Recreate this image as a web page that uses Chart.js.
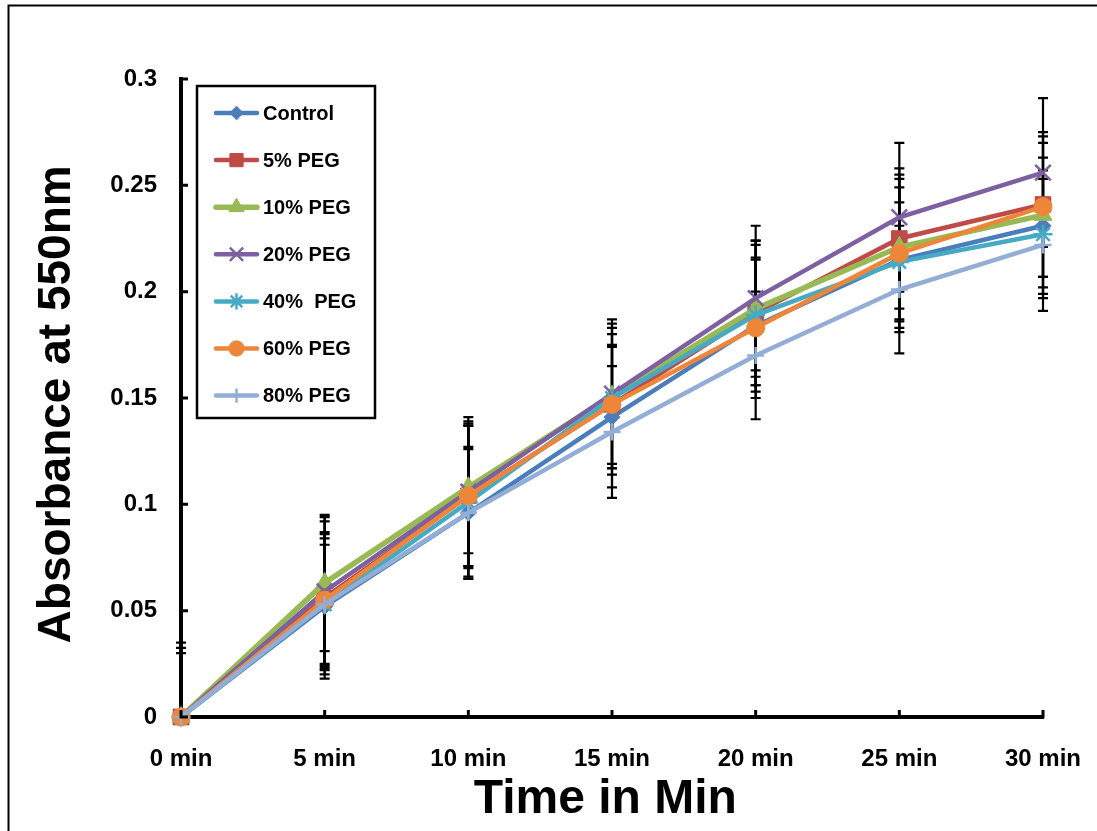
<!DOCTYPE html>
<html>
<head>
<meta charset="utf-8">
<script src="https://cdn.jsdelivr.net/npm/chart.js@4.4.1/dist/chart.umd.min.js"></script>
<style>
  html, body { margin: 0; padding: 0; background: #ffffff; }
  #wrap { width: 1097px; height: 831px; position: relative; }
</style>
</head>
<body>
<div id="wrap"><canvas id="c" width="1097" height="831"></canvas></div>
<script>
// ---- data ----
const categories = ['0 min', '5 min', '10 min', '15 min', '20 min', '25 min', '30 min'];
const seriesNames = ['Control', '5% PEG', '10% PEG', '20% PEG', '40%  PEG', '60% PEG', '80% PEG'];

const control = [0, 0.052, 0.096, 0.141, 0.184, 0.215, 0.231];
const peg5    = [0, 0.056, 0.104, 0.147, 0.190, 0.225, 0.241];
const peg10   = [0, 0.063, 0.108, 0.151, 0.192, 0.221, 0.236];
const peg20   = [0, 0.059, 0.106, 0.152, 0.197, 0.235, 0.256];
const peg40   = [0, 0.053, 0.101, 0.150, 0.189, 0.214, 0.227];
const peg60   = [0, 0.055, 0.104, 0.147, 0.183, 0.218, 0.240];
const peg80   = [0, 0.053, 0.096, 0.134, 0.170, 0.201, 0.222];

const errControl = [0,      0.034, 0.031, 0.033, 0.031, 0.034, 0.032];
const err5       = [0.0325, 0.036, 0.034, 0.033, 0.034, 0.033, 0.034];
const err10      = [0.035,  0.032, 0.031, 0.034, 0.032, 0.034, 0.034];
const err20      = [0.030,  0.035, 0.035, 0.035, 0.034, 0.035, 0.035];
const err40      = [0,      0.031, 0.036, 0.033, 0.033, 0.028, 0.030];
const err60      = [0,      0.032, 0.033, 0.028, 0.033, 0.035, 0.033];
const err80      = [0,      0.028, 0.030, 0.031, 0.030, 0.030, 0.031];

const yTickLabels = ['0', '0.05', '0.1', '0.15', '0.2', '0.25', '0.3'];

// ---- styles ----
const colors = ['#4A7EBB', '#BE4B48', '#98B954', '#7D60A0', '#46AAC5', '#EE8639', '#93AED6'];
const styles = ['rectRot', 'rect', 'triangle', 'crossRot', 'star', 'circle', 'cross'];
const radii  = [8, 11, 10.5, 11, 9.5, 9, 8.5];
const lineW  = [4.5, 4.5, 5.5, 4.5, 4.5, 4.5, 4.5];
const values = [control, peg5, peg10, peg20, peg40, peg60, peg80];
const errors = [errControl, err5, err10, err20, err40, err60, err80];

const FONT = '"Liberation Sans", Arial, sans-serif';

const datasets = values.map((v, i) => {
  const open = (styles[i] === 'crossRot' || styles[i] === 'star' || styles[i] === 'cross');
  return {
    label: seriesNames[i],
    data: v,
    errors: errors[i],
    borderColor: colors[i],
    backgroundColor: colors[i],
    borderWidth: lineW[i],
    pointStyle: styles[i],
    pointRadius: radii[i],
    pointBorderWidth: open ? 2.5 : 1,
    pointBackgroundColor: colors[i],
    pointBorderColor: colors[i],
    tension: 0,
    order: values.length - 1 - i,
    clip: false
  };
});

const framePlugin = {
  id: 'frame',
  beforeDraw(chart) {
    const ctx = chart.ctx;
    ctx.save();
    ctx.fillStyle = '#ffffff';
    ctx.fillRect(0, 0, chart.width, chart.height);
    ctx.strokeStyle = '#000';
    ctx.lineWidth = 2;
    ctx.beginPath();
    ctx.moveTo(8.5, chart.height);
    ctx.lineTo(8.5, 5.5);
    ctx.lineTo(chart.width, 5.5);
    ctx.stroke();
    ctx.restore();
  }
};

const errorBarPlugin = {
  id: 'errorBars',
  beforeDatasetsDraw(chart) {
    const ctx = chart.ctx;
    const area = chart.chartArea;
    const xs = chart.scales.x, ys = chart.scales.y;
    ctx.save();
    ctx.beginPath();
    ctx.rect(area.left - 10, area.top - 2, area.right - area.left + 20, area.bottom - area.top + 2);
    ctx.clip();
    ctx.strokeStyle = '#000';
    ctx.lineWidth = 2.2;
    chart.data.datasets.forEach(ds => {
      ds.data.forEach((v, j) => {
        const e = ds.errors[j];
        if (!e) return;
        const x = xs.getPixelForValue(j);
        const yTop = ys.getPixelForValue(v + e);
        const yBot = ys.getPixelForValue(v - e);
        ctx.beginPath();
        ctx.moveTo(x, yTop); ctx.lineTo(x, yBot);
        ctx.moveTo(x - 5, yTop); ctx.lineTo(x + 5, yTop);
        ctx.moveTo(x - 5, yBot); ctx.lineTo(x + 5, yBot);
        ctx.stroke();
      });
    });
    ctx.restore();
  },
  afterDatasetsDraw(chart) {
    // inward tick marks on both axes
    const ctx = chart.ctx;
    const area = chart.chartArea;
    const xs = chart.scales.x, ys = chart.scales.y;
    ctx.save();
    ctx.strokeStyle = '#000';
    ctx.lineWidth = 3;
    ctx.beginPath();
    ys.ticks.forEach((t, i) => {
      const y = ys.getPixelForTick(i);
      ctx.moveTo(area.left - 1, y); ctx.lineTo(area.left + 7, y);
    });
    xs.ticks.forEach((t, i) => {
      const x = xs.getPixelForTick(i);
      ctx.moveTo(x, area.bottom + 1); ctx.lineTo(x, area.bottom - 7);
    });
    ctx.stroke();
    ctx.restore();
  }
};

const legendPlugin = {
  id: 'boxLegend',
  afterDraw(chart) {
    const ctx = chart.ctx;
    const bx = 197, by = 86, bw = 178, bh = 332;
    ctx.save();
    ctx.fillStyle = '#fff';
    ctx.fillRect(bx, by, bw, bh);
    ctx.strokeStyle = '#000';
    ctx.lineWidth = 2.5;
    ctx.strokeRect(bx, by, bw, bh);
    const rowY0 = 113, rowGap = 47.1;
    chart.data.datasets.forEach((ds, i) => {
      const y = rowY0 + i * rowGap;
      ctx.strokeStyle = ds.borderColor;
      ctx.lineWidth = ds.borderWidth;
      ctx.lineCap = 'round';
      ctx.beginPath();
      ctx.moveTo(216, y); ctx.lineTo(257, y);
      ctx.stroke();
      ctx.fillStyle = ds.pointBackgroundColor;
      ctx.strokeStyle = ds.pointBorderColor;
      ctx.lineWidth = ds.pointBorderWidth;
      ctx.lineCap = 'butt';
      Chart.helpers.drawPoint(ctx, {
        pointStyle: ds.pointStyle,
        radius: ds.pointRadius * 0.85,
        rotation: 0,
        borderWidth: ds.pointBorderWidth
      }, 236.5, y);
      ctx.fillStyle = '#000';
      ctx.font = 'bold 20px ' + FONT;
      ctx.textAlign = 'left';
      ctx.textBaseline = 'middle';
      ctx.fillText(ds.label, 263, y + 1);
    });
    ctx.restore();
  }
};

new Chart(document.getElementById('c'), {
  type: 'line',
  data: { labels: categories, datasets: datasets },
  plugins: [framePlugin, errorBarPlugin, legendPlugin],
  options: {
    responsive: false,
    animation: false,
    events: [],
    layout: { padding: { top: 79, right: 54, left: 0, bottom: 0 } },
    plugins: { legend: { display: false }, tooltip: { enabled: false } },
    scales: {
      x: {
        type: 'category',
        offset: false,
        grid: { display: false, drawTicks: false },
        border: { display: true, color: '#000', width: 4 },
        ticks: {
          color: '#000',
          font: { family: FONT, size: 24, weight: 'bold' },
          padding: 28,
          maxRotation: 0,
          autoSkip: false
        },
        title: {
          display: true,
          text: 'Time in Min ',
          color: '#000',
          font: { family: FONT, size: 48, weight: 'bold' },
          padding: { top: 0, bottom: 2 }
        },
        afterFit(scale) {
          scale.height = 114;
          scale.paddingLeft = 0;
          scale.paddingRight = 0;
        }
      },
      y: {
        type: 'linear',
        min: 0,
        max: 0.3,
        grid: { display: false, drawTicks: false },
        border: { display: true, color: '#000', width: 4 },
        ticks: {
          stepSize: 0.05,
          color: '#000',
          font: { family: FONT, size: 24, weight: 'bold' },
          padding: 24,
          callback: (v, i) => yTickLabels[i]
        },
        title: {
          display: true,
          text: 'Absorbance at 550nm ',
          color: '#000',
          font: { family: FONT, size: 46, weight: 'bold' },
          padding: { top: 30, bottom: 0 }
        },
        afterFit(scale) { scale.width = 181; }
      }
    }
  }
});
</script>
</body>
</html>
